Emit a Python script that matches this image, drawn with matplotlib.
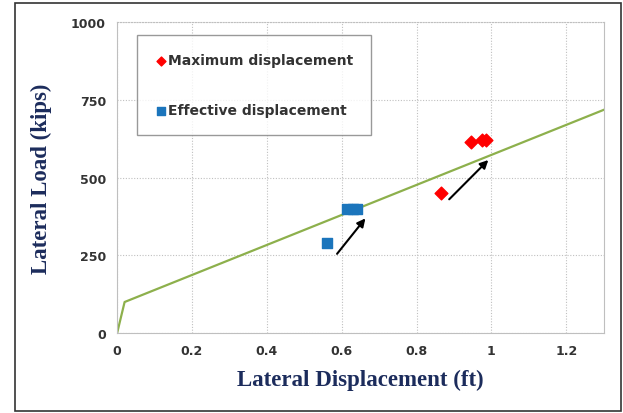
import matplotlib
matplotlib.use("Agg")
import matplotlib.pyplot as plt
from matplotlib.patches import Rectangle

# capacity curve (lateral load vs displacement)
curve_x = [0.0, 0.02, 1.3]
curve_y = [0, 100, 718]

max_x = [0.865, 0.945, 0.975, 0.985]
max_y = [450, 615, 620, 620]

eff_x = [0.56, 0.615, 0.63, 0.64]
eff_y = [290, 400, 400, 400]

# arrows: (start_x, start_y, end_x, end_y)
arrows = [(0.583, 248, 0.668, 376), (0.882, 424, 0.997, 563)]

xticks = [0, 0.2, 0.4, 0.6, 0.8, 1.0, 1.2]
xticklabels = ["0", "0.2", "0.4", "0.6", "0.8", "1", "1.2"]
yticks = [0, 250, 500, 750, 1000]

fig = plt.figure(figsize=(6.23, 4.14), dpi=100)
ax = fig.add_axes([0.188, 0.193, 0.781, 0.751])

ax.plot(curve_x, curve_y, color="#8DB04C", lw=1.6, zorder=2)
ax.scatter(max_x, max_y, marker="D", s=42, color="#FF0000", zorder=3,
           label="Maximum displacement")
ax.scatter(eff_x, eff_y, marker="s", s=55, color="#1B75BC", zorder=3,
           label="Effective displacement")

for x0, y0, x1, y1 in arrows:
    ax.annotate("", xy=(x1, y1), xytext=(x0, y0),
                arrowprops=dict(arrowstyle="-|>", color="black", lw=1.5,
                                mutation_scale=12), zorder=4)

ax.set_xlim(0, 1.3)
ax.set_ylim(0, 1000)
ax.set_xticks(xticks)
ax.set_xticklabels(xticklabels)
ax.set_yticks(yticks)
ax.grid(True, color="#C0C0C0", linestyle=(0, (1, 1.5)), lw=0.8)
ax.tick_params(length=0, pad=8, labelsize=9, labelcolor="#333333")
for lab in ax.get_xticklabels() + ax.get_yticklabels():
    lab.set_fontweight("bold")
for name, sp in ax.spines.items():
    sp.set_color("#BFBFBF")
    sp.set_linewidth(0.8)
ax.spines["top"].set_linestyle((0, (1, 1.5)))

navy = "#1C2C5C"
ax.set_xlabel("Lateral Displacement (ft)", family="Liberation Serif",
              fontweight="bold", fontsize=16.5, color=navy, labelpad=8)
ax.set_ylabel("Lateral Load (kips)", family="Liberation Serif",
              fontweight="bold", fontsize=16.5, color=navy, labelpad=14)

leg = ax.legend(loc="upper left", bbox_to_anchor=(0.041, 0.958),
                frameon=True, fancybox=False, edgecolor="#808080",
                handletextpad=0.1, handlelength=0.8, labelspacing=2.6,
                borderpad=1.3, borderaxespad=0,
                prop=dict(weight="bold", size=10),
                markerscale=0.7)
for t in leg.get_texts():
    t.set_color("#333333")
leg.get_frame().set_linewidth(1.0)

# outer frame around the whole picture
fig.patches.append(Rectangle((0.024, 0.005), 0.973, 0.985,
                             transform=fig.transFigure, fill=False,
                             edgecolor="#333333", lw=1.2))

fig.savefig("out.png", dpi=100)
